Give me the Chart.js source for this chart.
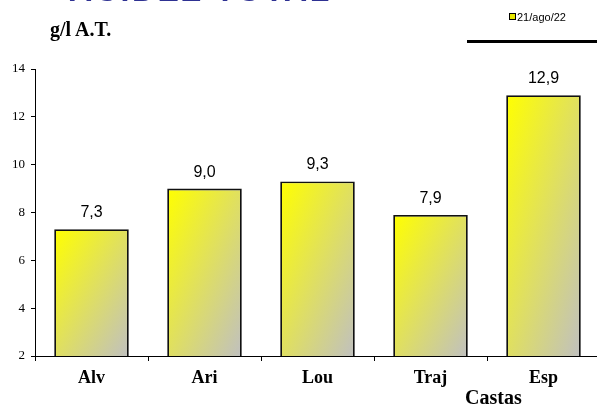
<!DOCTYPE html>
<html>
<head>
<meta charset="utf-8">
<script src="https://cdn.jsdelivr.net/npm/chart.js@4/dist/chart.umd.min.js"></script>
<style>
  html, body { margin: 0; padding: 0; background: #fff; width: 597px; height: 404px; overflow: hidden; position: relative; }
  #wrap { position: absolute; left: 0; top: 0; width: 606px; height: 404px; }
  .t { position: absolute; white-space: nowrap; }
  #title { left: 69px; top: -27px; font: bold 32px "Liberation Sans", Arial, sans-serif; color: #2e3192; letter-spacing: 2.6px; line-height: 34px; }
  #unit { left: 50px; top: 18px; font: bold 20px "Liberation Serif", "Times New Roman", serif; color: #000; }
  #legend { left: 509px; top: 11px; font: 11px "Liberation Sans", Arial, sans-serif; color: #000; }
  #legend span.m { display: inline-block; width: 5px; height: 5px; border: 1px solid #000; background: #e8e800; margin-right: 1px; vertical-align: 1px; }
  #rule { left: 467px; top: 40px; width: 140px; height: 3px; background: #000; }
  #castas { left: 465px; top: 386px; font: bold 20px "Liberation Serif", "Times New Roman", serif; color: #000; line-height: 22px; }
</style>
</head>
<body>
<div id="wrap"><canvas id="c" width="606" height="404"></canvas></div>
<div class="t" id="title">ACIDEZ TOTAL</div>
<div class="t" id="unit">g/l A.T.</div>
<div class="t" id="legend"><span class="m"></span>21/ago/22</div>
<div class="t" id="rule"></div>
<div class="t" id="castas">Castas</div>
<script>
const categories = ["Alv", "Ari", "Lou", "Traj", "Esp"];
const seriesName = "21/ago/22";
const values = [7.3, 9.0, 9.3, 7.9, 12.9];
const yTicks = [2, 4, 6, 8, 10, 12, 14];

// Diagonal gradient: yellow at top-left corner, grey at bottom-right,
// isolines parallel to the bar's other diagonal.
function barGradient(ctx) {
  const chart = ctx.chart;
  const xs = chart.scales.x, ys = chart.scales.y;
  if (!xs || !ys || ctx.dataIndex === undefined || !chart.chartArea) return '#f0f040';
  const cx = xs.getPixelForValue(ctx.dataIndex);
  const half = (xs.width / categories.length) * 0.66 / 2;
  const top = ys.getPixelForValue(values[ctx.dataIndex]);
  const bottom = ys.getPixelForValue(ys.min);
  if (![cx, half, top, bottom].every(Number.isFinite)) return '#f0f040';
  const w = 2 * half, h = bottom - top;
  if (w <= 0 || h <= 0) return '#f0f040';
  const k = 2 * w * h / (w * w + h * h);
  const x0 = cx - half, y0 = top;
  const g = chart.ctx.createLinearGradient(x0, y0, x0 + k * h, y0 + k * w);
  g.addColorStop(0, '#ffff00');
  g.addColorStop(1, '#c0c0c0');
  return g;
}

const valueLabels = {
  id: 'valueLabels',
  afterDatasetsDraw(chart) {
    const ctx = chart.ctx;
    const meta = chart.getDatasetMeta(0);
    ctx.save();
    ctx.font = '16px "Liberation Sans", Arial, sans-serif';
    ctx.fillStyle = '#000';
    ctx.textAlign = 'center';
    ctx.textBaseline = 'alphabetic';
    meta.data.forEach((bar, i) => {
      ctx.fillText(values[i].toFixed(1).replace('.', ','), bar.x, bar.y - 12);
    });
    ctx.restore();
  }
};

new Chart(document.getElementById('c'), {
  type: 'bar',
  data: {
    labels: categories,
    datasets: [{
      label: seriesName,
      data: values,
      backgroundColor: barGradient,
      borderColor: '#111',
      borderWidth: 1.8,
      borderSkipped: false,
      categoryPercentage: 1,
      barPercentage: 0.66
    }]
  },
  options: {
    responsive: false,
    animation: false,
    layout: { padding: { top: 69, right: 6, bottom: 0, left: 0 } },
    plugins: { legend: { display: false }, tooltip: { enabled: false }, title: { display: false } },
    scales: {
      x: {
        grid: { drawOnChartArea: false, drawTicks: true, tickLength: 5, color: '#000', offset: true },
        border: { color: '#000', width: 1 },
        ticks: { color: '#000', padding: 7, font: { family: '"Liberation Serif", "Times New Roman", serif', size: 18, weight: 'bold' } },
        afterFit(s) { s.height = 48; }
      },
      y: {
        min: 2, max: 14,
        afterBuildTicks(s) { s.ticks = yTicks.map(v => ({ value: v })); },
        grid: { drawOnChartArea: false, drawTicks: true, tickLength: 4, color: '#000' },
        border: { color: '#000', width: 1 },
        ticks: { color: '#000', padding: 6, font: { family: '"Liberation Serif", "Times New Roman", serif', size: 13 } },
        afterFit(s) { s.width = 35; }
      }
    }
  },
  plugins: [valueLabels]
});
</script>
</body>
</html>
